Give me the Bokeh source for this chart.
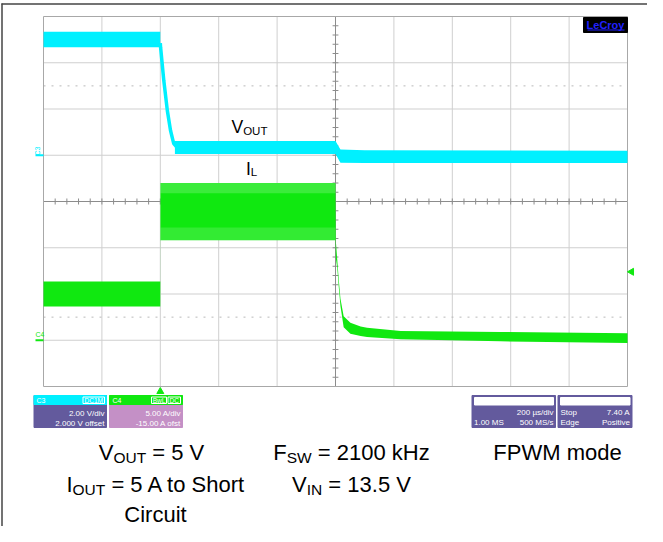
import numpy as np
from bokeh.plotting import figure
from bokeh.models import Range1d
from bokeh.core.properties import value
from bokeh.embed import file_html
from bokeh.resources import INLINE

# ---------------- data ----------------
# time axis: µs relative to trigger (200 µs/div, 10 div)
t_div = [-400, -200, 0, 200, 400, 600, 800, 1000, 1200, 1400, 1600]
v_div = [-4, -3, -2, -1, 0, 1, 2, 3, 4]

# VOUT (C3, 2 V/div) - noise band envelopes and the falling edge
vout_pre_t = [-400, 0]
vout_pre_hi = [5.34, 5.34]
vout_pre_lo = [4.67, 4.67]
vout_fall_t = [0, 1, 12, 24, 35, 46, 58]
vout_fall_v = [4.85, 4.67, 3.23, 1.94, 1.07, 0.50, 0.33]
vout_post_t = [50, 600, 617, 700, 1600]
vout_post_hi = [0.62, 0.62, 0.25, 0.22, 0.19]
vout_post_lo = [0.05, 0.05, -0.32, -0.33, -0.33]

# IL (C4, 5 A/div) - ripple band envelopes
il_t = [-400, 0, 0.5, 600, 601, 606, 611, 617, 628, 651, 686, 708, 823, 1165, 1600]
il_hi = [6.35, 6.35, 17.0, 17.0, 10.8, 8.7, 6.6, 4.5, 2.6, 1.9, 1.5, 1.35, 1.0, 0.9, 0.75]
il_lo = [3.65, 3.65, 10.8, 10.8, 8.9, 7.8, 5.8, 3.7, 1.4, 0.7, 0.45, 0.35, 0.1, -0.12, -0.3]
il_core_t = [0.5, 600]
il_core_hi = [15.9, 15.9]
il_core_lo = [12.2, 12.2]
trig_level = 7.40
trig_time = 0

CYAN = "#00f0ff"
GREEN = "#10e810"
PURPLE = "#635a9d"
LILAC = "#c490c6"

# ---------------- geometry ----------------
W, H = 647, 526
PX0, PY0 = 0, 0
GX0, GX1, GY0, GY1 = 43.0, 627.0, 16.0, 386.0
PX_PER_US = (GX1 - GX0) / 2000.0
PX_PER_DIV = (GY1 - GY0) / 8.0
YC = (GY0 + GY1) / 2.0
BL = -7  # baseline correction for alphabetic text


def tx(px):
    return -400 + (px - GX0) / PX_PER_US


def dy(py):
    return (YC - py) / PX_PER_DIV


ybot, ytop = dy(PY0 + H), dy(PY0)
p = figure(width=W, height=H, x_range=Range1d(tx(PX0), tx(PX0 + W)),
           y_range=Range1d(ybot, ytop), output_backend="svg",
           toolbar_location=None, x_axis_location=None, y_axis_location=None,
           min_border=0, outline_line_color=None, background_fill_color="white")
p.extra_y_ranges = {
    "vout": Range1d((ybot - 1) * 2, (ytop - 1) * 2),
    "il": Range1d((ybot + 3) * 5, (ytop + 3) * 5),
}
p.grid.visible = False

# outer frame (top and left edges)
p.segment(x0=[tx(1), tx(1.5)], y0=[dy(3.5), dy(3)], x1=[tx(W), tx(1.5)], y1=[dy(3.5), ybot],
          line_color="#444444", line_width=1.5)

# graticule
inner_t = t_div[1:-1]
p.segment(x0=inner_t, y0=[-4] * len(inner_t), x1=inner_t, y1=[4] * len(inner_t),
          line_color="#cfcfcf", line_width=1)
inner_v = v_div[1:-1]
p.segment(x0=[-400] * len(inner_v), y0=inner_v, x1=[1600] * len(inner_v), y1=inner_v,
          line_color="#cfcfcf", line_width=1)
p.segment(x0=[-400, -400], y0=[2.5, -2.5], x1=[1600, 1600], y1=[2.5, -2.5],
          line_color="#b8b8b8", line_width=1, line_dash="2 6")
# center lines with minor ticks
p.segment(x0=[600, -400], y0=[-4, 0], x1=[600, 1600], y1=[4, 0],
          line_color="#8c8c8c", line_width=1)
ty = np.arange(-4, 4.01, 0.2)
p.segment(x0=[600 - 10] * len(ty), y0=ty, x1=[600 + 10] * len(ty), y1=ty,
          line_color="#8c8c8c", line_width=1)
txs = np.arange(-400, 1600.1, 40)
p.segment(x0=txs, y0=[-0.065] * len(txs), x1=txs, y1=[0.065] * len(txs),
          line_color="#8c8c8c", line_width=1)
p.quad(left=[-400], right=[1600], bottom=[-4], top=[4], fill_color=None,
       line_color="#a8a8a8", line_width=1)

# ---- waveforms ----
p.varea(x=vout_pre_t, y1=vout_pre_lo, y2=vout_pre_hi, fill_color=CYAN, y_range_name="vout")
p.line(vout_fall_t, vout_fall_v, line_width=3.5, line_color=CYAN, y_range_name="vout")
p.varea(x=vout_post_t, y1=vout_post_lo, y2=vout_post_hi, fill_color=CYAN, y_range_name="vout")

p.varea(x=il_t, y1=il_lo, y2=il_hi, fill_color=GREEN, y_range_name="il")
# slightly lighter striped fringes of the ripple band
p.varea(x=il_core_t, y1=il_core_hi, y2=[il_hi[2], il_hi[3]], fill_color="white",
        fill_alpha=0.18, y_range_name="il")
p.varea(x=il_core_t, y1=[il_lo[2], il_lo[3]], y2=il_core_lo, fill_color="white",
        fill_alpha=0.15, y_range_name="il")

# trigger markers
p.scatter(x=[tx(631)], y=[trig_level], marker="triangle", angle=np.pi / 2, size=7,
          fill_color=GREEN, line_color=GREEN, y_range_name="il")
p.scatter(x=[trig_time], y=[dy(391)], marker="triangle", size=7,
          fill_color=GREEN, line_color=GREEN)

# channel ground markers
p.segment(x0=[tx(35)], y0=[0.0], x1=[tx(43)], y1=[0.0], line_color=CYAN, line_width=2,
          y_range_name="vout")
p.segment(x0=[tx(35)], y0=[0.0], x1=[tx(43)], y1=[0.0], line_color=GREEN, line_width=2,
          y_range_name="il")

FONT = "Liberation Sans"


def txt(px, py, s, size, color="#000000", align="left", baseline="alphabetic",
        style="normal", angle=0.0):
    p.text(x=[tx(px)], y=[dy(py)], text=[s], text_font=value(FONT),
           text_font_size=f"{size}px", text_color=color, text_align=align,
           text_baseline=baseline, text_font_style=style, angle=angle)


ARIAL = {' ': 278, '=': 584, '.': 278, '-': 333, 'A': 667, 'C': 722, 'F': 611, 'I': 278,
         'L': 556, 'M': 833, 'N': 722, 'O': 778, 'P': 667, 'S': 667, 'T': 611, 'U': 722,
         'V': 667, 'W': 944, 'H': 722, 'c': 500, 'd': 556, 'e': 556, 'h': 556, 'i': 222,
         'k': 500, 'm': 833, 'o': 556, 'r': 333, 't': 278, 'u': 556, 'z': 500}
for d in "0123456789":
    ARIAL[d] = 556


def rich(x0, base, pieces, f, fs, off, center=True):
    widths = [sum(ARIAL[c] for c in s) / 1000.0 * (fs if sub else f) for s, sub in pieces]
    x = x0 - sum(widths) / 2.0 if center else x0
    for (s, sub), w in zip(pieces, widths):
        size = fs if sub else f
        lead = len(s) - len(s.lstrip(" "))
        txt(x + lead * ARIAL[' '] / 1000.0 * size, base + BL + (off if sub else 0),
            s.lstrip(" "), size)
        x += w


txt(33, 155, "C3", 7, color=CYAN, angle=np.pi / 2, baseline="top")
txt(35, 334, "C4", 7, color=GREEN, baseline="middle")

# LeCroy logo
p.quad(left=[tx(583)], right=[tx(627)], top=[dy(17)], bottom=[dy(32)],
       fill_color="black", line_color="black")
txt(605, 24, "LeCroy", 11, color="#2020ff", align="center", baseline="middle", style="bold")
p.segment(x0=[tx(587)], y0=[dy(29.5)], x1=[tx(624)], y1=[dy(29.5)],
          line_color="#2020ff", line_width=1)

# in-plot labels
rich(231, 133.5, [("V", False), ("OUT", True)], 17.5, 11.5, 3.5, center=False)
rich(245.5, 175, [("I", False), ("L", True)], 17.5, 11.5, 3.5, center=False)


# ---- info boxes ----
def box(l, r, body, strip):
    p.quad(left=[tx(l)], right=[tx(r)], top=[dy(395)], bottom=[dy(427)],
           fill_color=body, line_color=body)
    if strip is not None:
        p.quad(left=[tx(l)], right=[tx(r)], top=[dy(395)], bottom=[dy(404)],
               fill_color=strip, line_color=strip)


def badge(l, r, s):
    p.quad(left=[tx(l)], right=[tx(r)], top=[dy(396.5)], bottom=[dy(403)],
           fill_color=None, line_color="white", line_width=1)
    txt((l + r) / 2, 400, s, 6.5, color="white", align="center", baseline="middle")


box(33.5, 106, PURPLE, CYAN)
txt(36, 400, "C3", 7, color="white", baseline="middle")
badge(82.5, 104, "DC1M")
txt(104, 413, "2.00 V/div", 8, color="white", align="right", baseline="middle")
txt(104, 422.5, "2.000 V offset", 8, color="white", align="right", baseline="middle")

box(109, 182, LILAC, GREEN)
txt(112, 400, "C4", 7, color="white", baseline="middle")
badge(151, 166, "BwL")
badge(167.5, 180, "DC")
txt(180.5, 413, "5.00 A/div", 8, color="white", align="right", baseline="middle")
txt(180.5, 422.5, "-15.00 A ofst", 8, color="white", align="right", baseline="middle")

box(471.5, 555, PURPLE, None)
p.quad(left=[tx(474)], right=[tx(553)], top=[dy(397)], bottom=[dy(404.5)],
       fill_color="white", line_color="white")
txt(553, 412, "200 µs/div", 8, color="white", align="right", baseline="middle")
txt(473.5, 422, "1.00 MS", 8, color="white", align="left", baseline="middle")
txt(553, 422, "500 MS/s", 8, color="white", align="right", baseline="middle")

box(557.5, 631.5, PURPLE, None)
p.quad(left=[tx(560)], right=[tx(629.5)], top=[dy(397)], bottom=[dy(404.5)],
       fill_color="white", line_color="white")
txt(560, 412, "Stop", 8, color="white", align="left", baseline="middle")
txt(629.5, 412, "7.40 A", 8, color="white", align="right", baseline="middle")
txt(560, 422, "Edge", 8, color="white", align="left", baseline="middle")
txt(629.5, 422, "Positive", 8, color="white", align="right", baseline="middle")

# ---- caption text ----
F, FS, OFF = 22, 15.5, 4.5
rich(151, 459, [("V", False), ("OUT", True), (" = 5 V", False)], F, FS, OFF)
rich(351, 459, [("F", False), ("SW", True), (" = 2100 kHz", False)], F, FS, OFF)
rich(557, 459, [("FPWM mode", False)], F, FS, OFF)
rich(156, 491, [("I", False), ("OUT", True), (" = 5 A to Short", False)], F, FS, OFF)
rich(351, 491, [("V", False), ("IN", True), (" = 13.5 V", False)], F, FS, OFF)
rich(155, 521, [("Circuit", False)], F, FS, OFF)

open("out.html", "w").write(file_html(p, INLINE))
